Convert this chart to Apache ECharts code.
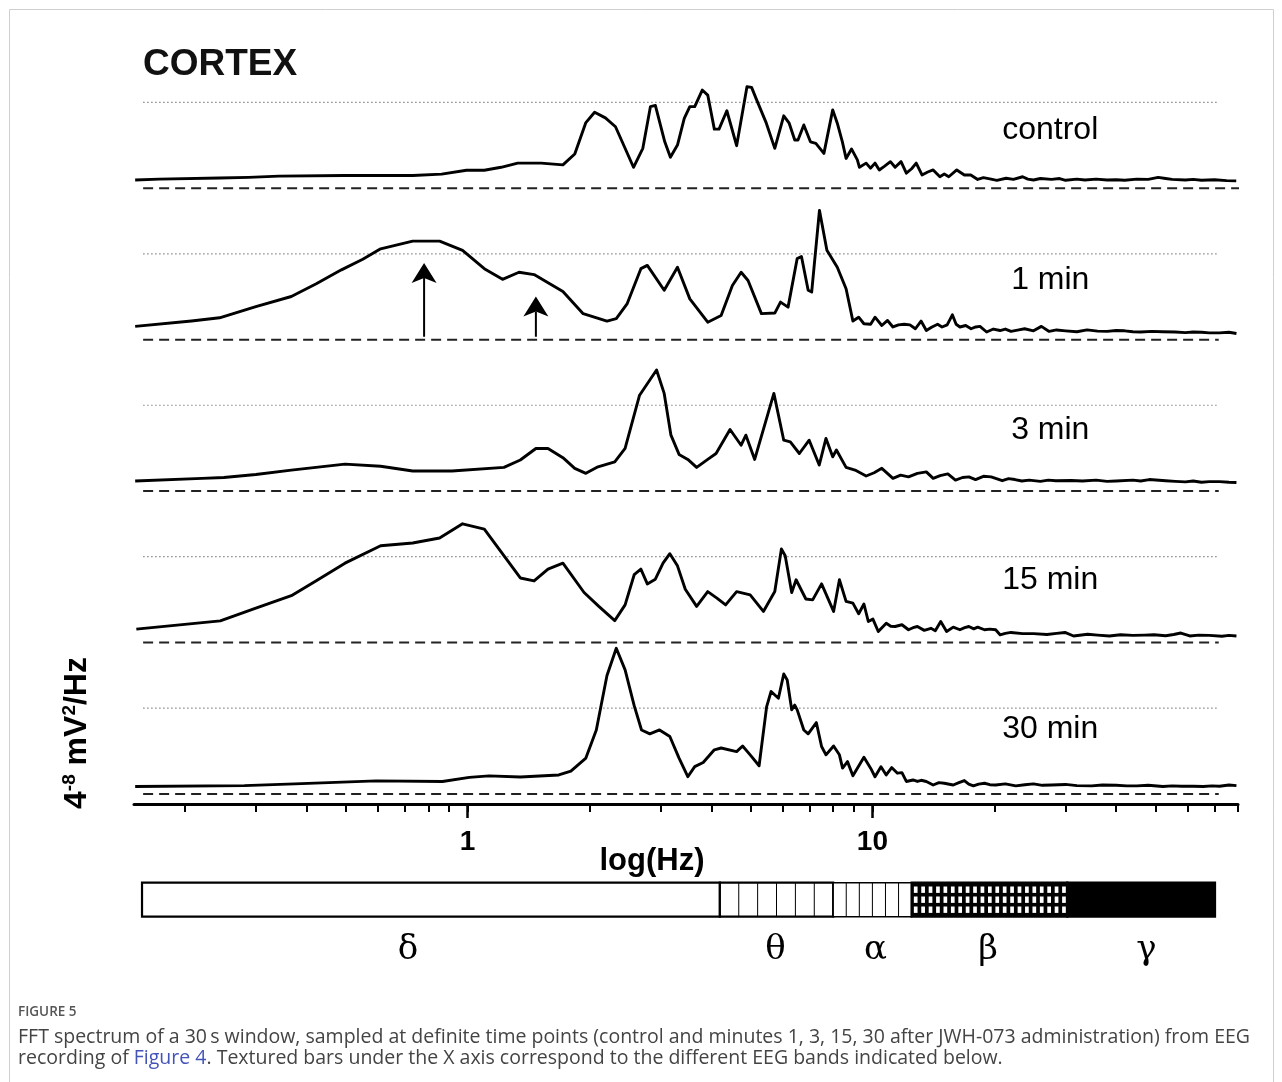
<!DOCTYPE html>
<html>
<head>
<meta charset="utf-8">
<title>CORTEX FFT spectrum</title>
<script src="https://cdn.jsdelivr.net/npm/echarts@6.0.0/dist/echarts.min.js"></script>
<style>
html,body{margin:0;padding:0;background:#fff;}
#chart{width:1282px;height:1082px;}
</style>
</head>
<body>
<div id="chart"></div>
<script>
// ================= DATA (frequency in Hz, power in 10^-8 mV^2/Hz) =================
const panelNames = ['control', '1 min', '3 min', '15 min', '30 min'];

const controlSpectrum = [[0.151,0.28],[0.173,0.31],[0.244,0.35],[0.288,0.37],[0.342,0.41],[0.497,0.43],[0.732,0.43],[0.863,0.48],[0.994,0.61],[1.10,0.61],[1.21,0.71],[1.33,0.85],[1.52,0.85],[1.72,0.79],[1.84,1.16],[1.96,2.22],[2.06,2.57],[2.19,2.38],[2.32,2.08],[2.57,0.71],[2.71,1.35],[2.83,2.76],[2.91,2.80],[3.07,1.57],[3.17,1.05],[3.30,1.46],[3.43,2.36],[3.54,2.76],[3.64,2.76],[3.80,3.32],[3.92,3.15],[4.07,2.00],[4.18,2.00],[4.37,2.62],[4.62,1.44],[4.90,3.43],[5.03,3.41],[5.18,2.98],[5.47,2.20],[5.74,1.35],[6.04,2.45],[6.23,2.20],[6.43,1.63],[6.55,1.63],[6.77,2.14],[7.03,1.57],[7.25,1.52],[7.59,1.18],[7.98,2.65],[8.19,2.20],[8.43,1.57],[8.61,1.01],[8.88,1.33],[9.18,0.96],[9.29,0.71],[9.65,0.85],[9.89,0.68],[10.15,0.85],[10.4,0.62],[10.7,0.74],[11.08,0.90],[11.38,0.71],[11.77,0.90],[12.13,0.51],[12.5,0.66],[12.83,0.85],[13.26,0.45],[13.7,0.55],[14.13,0.62],[14.68,0.39],[15.05,0.48],[15.44,0.39],[16.16,0.62],[16.87,0.45],[17.5,0.45],[18.2,0.30],[18.8,0.36],[19.5,0.32],[20.3,0.27],[21.4,0.34],[22.3,0.30],[23.5,0.39],[24.2,0.31],[25,0.28],[26,0.33],[27.7,0.30],[29,0.33],[30,0.27],[32,0.31],[33.5,0.28],[35.7,0.31],[38,0.28],[40,0.29],[42,0.27],[45,0.31],[48,0.30],[50.8,0.37],[53,0.33],[55,0.30],[59.3,0.28],[62,0.30],[65,0.27],[70,0.29],[75,0.26],[79.2,0.25]];

const min1Spectrum = [[0.151,0.45],[0.208,0.63],[0.244,0.74],[0.300,1.12],[0.367,1.46],[0.423,1.89],[0.488,2.36],[0.551,2.72],[0.610,3.07],[0.732,3.33],[0.853,3.33],[0.972,3.02],[1.10,2.40],[1.22,2.04],[1.34,2.28],[1.46,2.20],[1.72,1.63],[1.93,0.88],[2.21,0.63],[2.33,0.71],[2.48,1.22],[2.68,2.40],[2.78,2.51],[3.06,1.67],[3.30,2.45],[3.54,1.38],[3.92,0.59],[4.23,0.82],[4.51,1.83],[4.74,2.28],[4.93,2.00],[5.32,0.88],[5.74,0.90],[5.93,1.27],[6.19,1.10],[6.52,2.74],[6.68,2.81],[6.94,1.67],[7.08,1.61],[7.40,4.37],[7.72,3.02],[8.19,2.45],[8.61,1.72],[8.95,0.63],[9.25,0.76],[9.53,0.54],[9.90,0.52],[10.15,0.76],[10.55,0.48],[10.9,0.65],[11.24,0.43],[11.6,0.50],[11.98,0.52],[12.38,0.50],[12.77,0.37],[13.19,0.63],[13.59,0.31],[14.0,0.42],[14.49,0.52],[14.86,0.43],[15.3,0.50],[15.76,0.84],[16.1,0.52],[16.45,0.43],[17.0,0.48],[17.53,0.37],[18.0,0.43],[18.44,0.45],[19.15,0.26],[19.9,0.36],[20.67,0.31],[21.3,0.36],[22,0.28],[23.0,0.33],[23.77,0.37],[25,0.30],[26.15,0.45],[27.33,0.28],[28.5,0.33],[30,0.30],[32,0.27],[33.9,0.33],[36,0.29],[38,0.28],[40,0.31],[42,0.30],[44,0.27],[46,0.26],[49,0.28],[52,0.27],[56,0.26],[59.3,0.24],[62,0.26],[65,0.25],[68,0.23],[72,0.23],[76,0.25],[79.3,0.21]];

const min3Spectrum = [[0.151,0.34],[0.221,0.43],[0.250,0.46],[0.300,0.56],[0.367,0.71],[0.498,0.91],[0.610,0.84],[0.732,0.68],[0.915,0.68],[1.23,0.80],[1.35,1.05],[1.475,1.44],[1.58,1.44],[1.72,1.13],[1.84,0.77],[1.96,0.60],[2.10,0.82],[2.31,0.99],[2.45,1.44],[2.66,3.24],[2.93,4.09],[3.06,3.30],[3.18,1.89],[3.33,1.24],[3.50,1.07],[3.68,0.80],[3.92,1.07],[4.11,1.27],[4.45,2.08],[4.74,1.55],[4.87,1.89],[5.12,1.07],[5.71,3.30],[6.04,1.72],[6.27,1.66],[6.60,1.27],[6.98,1.72],[7.39,0.88],[7.68,1.78],[7.98,1.16],[8.15,1.39],[8.61,0.80],[9.06,0.71],[9.65,0.51],[10.1,0.62],[10.55,0.77],[11.24,0.43],[11.74,0.54],[12.28,0.48],[12.92,0.60],[13.59,0.65],[14.13,0.43],[14.7,0.52],[15.36,0.58],[16.04,0.37],[16.7,0.46],[17.31,0.48],[17.98,0.39],[18.8,0.50],[19.65,0.48],[20.93,0.35],[21.7,0.42],[22.5,0.39],[23.4,0.34],[24.4,0.37],[26,0.33],[27.2,0.37],[28.4,0.35],[31,0.36],[33,0.34],[35.7,0.37],[38,0.33],[40,0.34],[44,0.37],[46,0.34],[48.3,0.39],[53,0.35],[56,0.33],[59.3,0.31],[62,0.34],[65,0.30],[68,0.32],[72,0.32],[76,0.30],[79.3,0.29]];

const min15Spectrum = [[0.152,0.45],[0.245,0.73],[0.300,1.16],[0.367,1.58],[0.423,2.09],[0.498,2.68],[0.610,3.27],[0.732,3.36],[0.853,3.53],[0.972,4.01],[1.10,3.83],[1.35,2.18],[1.46,2.08],[1.58,2.48],[1.72,2.68],[1.94,1.69],[2.11,1.22],[2.31,0.74],[2.45,1.27],[2.58,2.29],[2.68,2.48],[2.78,1.98],[2.91,2.14],[3.04,2.68],[3.16,3.00],[3.30,2.59],[3.45,1.80],[3.68,1.22],[3.92,1.72],[4.13,1.50],[4.34,1.27],[4.62,1.72],[4.99,1.61],[5.38,1.05],[5.74,1.72],[5.96,3.16],[6.09,2.93],[6.32,1.69],[6.48,2.12],[6.85,1.47],[7.12,1.44],[7.49,1.98],[8.02,1.05],[8.29,2.12],[8.61,1.39],[8.95,1.33],[9.25,0.97],[9.53,1.30],[9.77,0.71],[10.03,0.79],[10.34,0.37],[10.82,0.65],[11.1,0.55],[11.38,0.54],[11.83,0.60],[12.28,0.43],[12.6,0.50],[12.92,0.54],[13.43,0.41],[13.95,0.48],[14.3,0.40],[14.75,0.71],[15.25,0.37],[15.84,0.52],[16.45,0.43],[16.9,0.50],[17.31,0.54],[17.8,0.46],[18.20,0.52],[18.92,0.43],[19.5,0.45],[20.16,0.43],[20.67,0.26],[21.3,0.31],[22.0,0.34],[23.5,0.30],[25.0,0.30],[27,0.27],[28.5,0.31],[29.9,0.34],[31.4,0.22],[34,0.28],[36,0.25],[38.5,0.22],[41,0.26],[44,0.24],[47,0.25],[49.6,0.26],[53,0.23],[55.5,0.27],[57.8,0.32],[60.8,0.22],[64,0.25],[68,0.24],[73,0.21],[76,0.24],[79.3,0.22]];

const min30Spectrum = [[0.151,0.25],[0.281,0.28],[0.374,0.34],[0.595,0.44],[0.867,0.42],[1.01,0.56],[1.13,0.61],[1.35,0.57],[1.68,0.64],[1.80,0.77],[1.96,1.21],[2.08,2.16],[2.21,4.00],[2.33,4.92],[2.45,4.19],[2.58,2.98],[2.69,2.16],[2.82,2.03],[2.98,2.16],[3.16,1.94],[3.33,1.21],[3.50,0.58],[3.64,0.92],[3.82,1.06],[4.07,1.49],[4.23,1.55],[4.62,1.43],[4.78,1.62],[4.99,1.32],[5.25,0.95],[5.48,2.95],[5.62,3.46],[5.86,3.23],[6.04,4.05],[6.16,3.85],[6.32,2.84],[6.43,3.00],[6.52,2.84],[6.77,2.16],[6.94,2.03],[7.27,2.41],[7.49,1.60],[7.68,1.32],[8.02,1.62],[8.29,1.32],[8.44,0.87],[8.68,1.09],[8.95,0.61],[9.53,1.24],[9.90,0.87],[10.15,0.58],[10.50,0.92],[10.82,0.64],[11.16,0.89],[11.53,0.70],[11.83,0.72],[12.13,0.42],[12.60,0.47],[12.92,0.42],[13.2,0.46],[13.59,0.42],[14.13,0.30],[14.6,0.38],[15.05,0.36],[15.84,0.30],[16.3,0.37],[16.87,0.45],[17.3,0.33],[17.76,0.27],[18.3,0.33],[18.92,0.36],[19.5,0.31],[20.16,0.30],[21.3,0.34],[22.6,0.27],[23.8,0.31],[25.0,0.34],[26.3,0.29],[27.7,0.30],[30,0.32],[32,0.28],[34.8,0.27],[37,0.30],[40.0,0.29],[42.5,0.27],[45,0.27],[48,0.29],[52.2,0.25],[55,0.27],[58,0.26],[62,0.26],[65.6,0.25],[69,0.27],[72,0.26],[76,0.30],[79.3,0.28]];

const spectra = [controlSpectrum, min1Spectrum, min3Spectrum, min15Spectrum, min30Spectrum];

const referenceLevel = 2.9;              // dotted reference line
const refLineHz = [0.158, 71.7];          // extent of dotted / dashed lines
const baselineEndHz = [86.9, 71.7, 71.7, 71.7, 71.7];
const arrowHz = [0.781, 1.475];
const arrowTip = [2.59, 1.46];
const arrowBase = 0.1;
const scaleBarHz = 0.137;
const scaleBar = [0.135, 4.13];           // 4 units
const xTicks = [0.2,0.3,0.4,0.5,0.6,0.7,0.8,0.9,1,2,3,4,5,6,7,8,9,10,20,30,40,50,60,70,80];
const xTickLabels = [1, 10];
const bandEdgesHz = [0.157, 4.2, 8.0, 12.5, 30.3, 70.2];
const bandNames = ['δ', 'θ', 'α', 'β', 'γ'];
const bandLabelHz = [0.713, 5.76, 10.17, 19.3, 47.5];
const panelLabelHz = 27.5;
const panelLabelLevel = [1.97, 2.0, 2.05, 2.1, 2.17];

// ================= LAYOUT =================
const FONT = '"Liberation Sans", Arial, Helvetica, sans-serif';
const X_MIN = 0.15, X_MAX = 80;
const LEFT = 134, RIGHT = 44;
const DASH0 = 188.3, STEP = 151.4, PXU = 29.6, YMAX = 6;

const chart = echarts.init(document.getElementById('chart'), null, {renderer: 'canvas'});

const grid = [], xAxis = [], yAxis = [], series = [];
const nP = spectra.length;

spectra.forEach((spec, i) => {
  const dashY = DASH0 + STEP * i;
  const isBottom = i === nP - 1;
  grid.push({left: LEFT, right: RIGHT, top: dashY - YMAX * PXU, height: YMAX * PXU, containLabel: false, outerBoundsMode: 'none'});
  xAxis.push({
    type: 'log', logBase: 10, gridIndex: i, min: X_MIN, max: X_MAX, show: isBottom,
    position: 'bottom', offset: isBottom ? 10 : 0,
    axisLine: {show: true, onZero: false, lineStyle: {color: '#000', width: 3}},
    axisTick: {show: true, inside: false, length: 8, customValues: xTicks, lineStyle: {color: '#000', width: 2}},
    axisLabel: {show: true, customValues: xTickLabels, margin: 24, color: '#000', fontSize: 28, fontWeight: 'bold', fontFamily: FONT,
      formatter: v => String(Math.round(v))},
    splitLine: {show: false}, minorTick: {show: false}, minorSplitLine: {show: false}
  });
  yAxis.push({type: 'value', gridIndex: i, min: 0, max: YMAX, show: false, splitLine: {show: false}});

  series.push({
    type: 'line', xAxisIndex: i, yAxisIndex: i, data: spec, showSymbol: false, symbol: 'none',
    lineStyle: {color: '#000', width: 2.9, join: 'round'}, silent: true, z: 5, animation: false
  });
  series.push({
    type: 'line', xAxisIndex: i, yAxisIndex: i, clip: false, showSymbol: false, symbol: 'none', silent: true, z: 3,
    data: [[refLineHz[0], 0], [baselineEndHz[i], 0]],
    lineStyle: {color: '#222', width: 2, type: [10, 6]}
  });
  series.push({
    type: 'line', xAxisIndex: i, yAxisIndex: i, clip: false, showSymbol: false, symbol: 'none', silent: true, z: 2,
    data: [[refLineHz[0], referenceLevel], [refLineHz[1], referenceLevel]],
    lineStyle: {color: '#888', width: 1.2, type: [1.5, 2.5]}
  });
  series.push({
    type: 'scatter', xAxisIndex: i, yAxisIndex: i, clip: false, silent: true, symbolSize: 1,
    itemStyle: {color: 'rgba(0,0,0,0)', opacity: 1},
    data: [{value: [panelLabelHz, panelLabelLevel[i]], name: panelNames[i]}],
    label: {show: true, position: 'inside', formatter: '{b}', fontSize: 32, color: '#000', opacity: 1, fontFamily: FONT}
  });
});

// longer major ticks on bottom axis
xAxis.push({
  type: 'log', logBase: 10, gridIndex: nP - 1, min: X_MIN, max: X_MAX, position: 'bottom', offset: 10,
  axisLine: {show: false, onZero: false},
  axisTick: {show: true, inside: false, length: 14, customValues: xTickLabels, lineStyle: {color: '#000', width: 2.5}},
  axisLabel: {show: false}, splitLine: {show: false}
});

// band bar grid
grid.push({left: LEFT, right: RIGHT, top: 882.7, height: 34, containLabel: false, outerBoundsMode: 'none'});
const bandGridIdx = grid.length - 1;
xAxis.push({type: 'log', logBase: 10, gridIndex: bandGridIdx, min: X_MIN, max: X_MAX, show: false});
const bandXIdx = xAxis.length - 1;
yAxis.push({type: 'value', gridIndex: bandGridIdx, min: 0, max: 1, show: false});
const bandYIdx = yAxis.length - 1;

// arrows (1 min panel)
series.push({
  type: 'custom', xAxisIndex: 1, yAxisIndex: 1, clip: false, silent: true, z: 6,
  data: arrowHz.map((h, k) => [h, arrowTip[k]]),
  renderItem: (params, api) => {
    const b = api.coord([api.value(0), arrowBase]);
    const t = api.coord([api.value(0), api.value(1)]);
    const hw = 12.5, hh = 20, notch = 5;
    return {type: 'group', children: [
      {type: 'line', shape: {x1: b[0], y1: b[1], x2: t[0], y2: t[1] + hh - notch}, style: {stroke: '#000', lineWidth: 2}},
      {type: 'polygon', shape: {points: [[t[0], t[1]], [t[0] - hw, t[1] + hh], [t[0], t[1] + hh - notch], [t[0] + hw, t[1] + hh]]}, style: {fill: '#000'}}
    ]};
  }
});

// scale bar
series.push({
  type: 'line', xAxisIndex: nP - 1, yAxisIndex: nP - 1, clip: false, showSymbol: false, symbol: 'none', silent: true,
  data: [[scaleBarHz, scaleBar[0]], [scaleBarHz, scaleBar[1]]],
  lineStyle: {color: '#000', width: 5, cap: 'round'}
});

// EEG band bar
series.push({
  type: 'custom', xAxisIndex: bandXIdx, yAxisIndex: bandYIdx, clip: false, silent: true,
  data: bandNames.map((n, k) => [bandEdgesHz[k], bandEdgesHz[k + 1], k]),
  renderItem: (params, api) => {
    const a = api.coord([api.value(0), 1]);
    const b = api.coord([api.value(1), 0]);
    const x0 = a[0], y0 = a[1], w = b[0] - a[0], h = b[1] - a[1];
    const kind = api.value(2);
    const children = [{type: 'rect', shape: {x: x0, y: y0, width: w, height: h},
      style: {fill: kind >= 3 ? '#000' : '#fff', stroke: '#000', lineWidth: kind === 2 ? 1.5 : 2.2}}];
    if (kind === 1 || kind === 2) {
      for (let k = 1; k <= 5; k++) {
        const xx = x0 + w * k / 6;
        children.push({type: 'line', shape: {x1: xx, y1: y0, x2: xx, y2: y0 + h}, style: {stroke: '#000', lineWidth: 1}});
      }
    }
    if (kind === 3) {
      const cols = 21, rows = 3, cw = w / cols, rh = (h - 4) / rows;
      for (let r = 0; r < rows; r++) {
        for (let c = 0; c < cols; c++) {
          children.push({type: 'rect', shape: {x: x0 + c * cw + cw * 0.3, y: y0 + 2 + r * rh + rh * 0.18, width: cw * 0.5, height: rh * 0.64},
            style: {fill: '#fff'}});
        }
      }
    }
    return {type: 'group', children};
  }
});

// band labels
series.push({
  type: 'scatter', xAxisIndex: bandXIdx, yAxisIndex: bandYIdx, clip: false, silent: true, symbolSize: 1,
  itemStyle: {color: 'rgba(0,0,0,0)', opacity: 1},
  data: bandNames.map((n, k) => ({value: [bandLabelHz[k], -0.98], name: n})),
  label: {show: true, position: 'inside', formatter: '{b}', fontSize: 34, color: '#000', opacity: 1,
    fontFamily: '"DejaVu Serif", "Liberation Serif", serif'}
});

const captionFont = '"Open Sans", "Noto Sans", sans-serif';

chart.setOption({
  animation: false,
  backgroundColor: '#fff',
  textStyle: {fontFamily: FONT},
  grid, xAxis, yAxis, series,
  graphic: [
    {type: 'polyline', silent: true, shape: {points: [[9.5, 1082], [9.5, 9.5], [1273.5, 9.5], [1273.5, 1082]]},
      style: {stroke: '#cfcfcf', lineWidth: 1, fill: null}},
    {type: 'text', x: 143, y: 65, silent: true,
      style: {text: 'CORTEX', fontSize: 37, fontWeight: 'bold', fontFamily: FONT, fill: '#111', verticalAlign: 'middle', align: 'left'}},
    {type: 'text', x: 652, y: 861, silent: true,
      style: {text: 'log(Hz)', fontSize: 31, fontWeight: 'bold', fontFamily: FONT, fill: '#000', verticalAlign: 'middle', align: 'center'}},
    {type: 'text', x: 77, y: 733, rotation: Math.PI / 2, silent: true,
      style: {
        text: '{b|4}{s|-8}{b| mV}{s|2}{b|/Hz}',
        align: 'center', verticalAlign: 'middle',
        rich: {
          b: {fontSize: 32, fontWeight: 'bold', fontFamily: FONT, fill: '#000', lineHeight: 34},
          s: {fontSize: 19, fontWeight: 'bold', fontFamily: FONT, fill: '#000', verticalAlign: 'top', lineHeight: 34}
        }
      }},
    {type: 'text', x: 18, y: 1012, silent: true,
      style: {text: 'FIGURE 5', fontSize: 13.5, fontWeight: 600, fontFamily: captionFont, fill: '#555', verticalAlign: 'middle'}},
    {type: 'text', x: 18, y: 1037, silent: true,
      style: {text: 'FFT spectrum of a 30\u2009s window, sampled at definite time points (control and minutes 1, 3, 15, 30 after JWH-073 administration) from EEG',
        fontSize: 19.5, fontFamily: captionFont, fill: '#444', verticalAlign: 'middle'}},
    {type: 'text', x: 18, y: 1058, silent: true,
      style: {text: 'recording of {l|Figure 4}. Textured bars under the X axis correspond to the different EEG bands indicated below.',
        fontSize: 19.5, fontFamily: captionFont, fill: '#444', verticalAlign: 'middle',
        rich: {l: {fontSize: 19.5, fontFamily: captionFont, fill: '#4353b8', color: '#4353b8'}}}}
  ]
});
</script>
</body>
</html>
